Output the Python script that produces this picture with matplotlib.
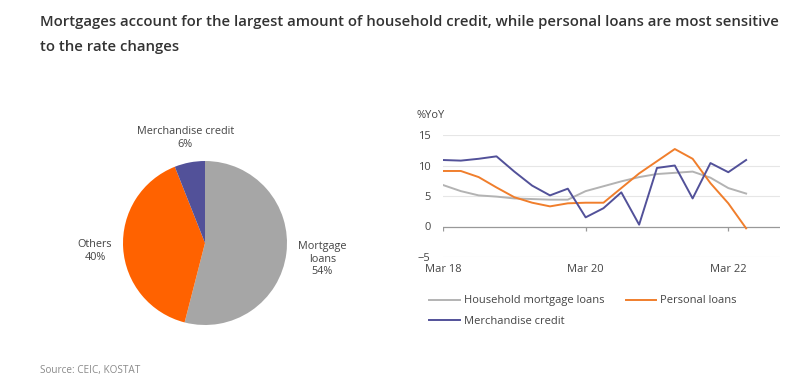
import matplotlib
matplotlib.use("Agg")
import matplotlib.pyplot as plt
import numpy as np

# ---- data ----
pie_labels = ["Mortgage\nloans\n54%", "Others\n40%", "Merchandise credit\n6%"]
pie_values = [54, 40, 6]

quarters = ["Mar 18", "Jun 18", "Sep 18", "Dec 18", "Mar 19", "Jun 19", "Sep 19", "Dec 19",
            "Mar 20", "Jun 20", "Sep 20", "Dec 20", "Mar 21", "Jun 21", "Sep 21", "Dec 21",
            "Mar 22", "Jun 22"]
mortgage = [6.8, 5.8, 5.1, 4.9, 4.6, 4.5, 4.4, 4.4, 5.8, 6.6, 7.4, 8.1, 8.6, 8.8, 9.0, 8.0, 6.3, 5.4]
personal = [9.1, 9.1, 8.1, 6.4, 4.8, 3.9, 3.3, 3.8, 3.9, 3.9, 6.3, 8.7, 10.7, 12.7, 11.1, 7.1, 3.8, -0.3]
merchandise = [10.9, 10.8, 11.1, 11.5, 9.0, 6.7, 5.1, 6.2, 1.5, 3.0, 5.6, 0.3, 9.6, 10.0, 4.6, 10.4, 8.9, 10.9]
xtick_labels = ["Mar 18", "Mar 20", "Mar 22"]
yticks = [-5, 0, 5, 10, 15]

FONT = ["Open Sans", "DejaVu Sans"]
plt.rcParams["font.family"] = FONT
TXT = "#444444"

fig = plt.figure(figsize=(8.08, 3.9), dpi=100)
W, H = 808, 390

fig.text(40 / W, 1 - 22 / H,
         "Mortgages account for the largest amount of household credit, while personal loans are most sensitive",
         fontsize=10.75, color="#333333", weight="semibold", va="center", ha="left")
fig.text(40 / W, 1 - 47 / H, "to the rate changes",
         fontsize=10.75, color="#333333", weight="semibold", va="center", ha="left")
fig.text(40 / W, 1 - 370 / H, "Source: CEIC, KOSTAT", fontsize=7.2, color="#8a8a8a",
         va="center", ha="left")

# ---- pie ----
cx, cy, r = 205, 243, 82
axp = fig.add_axes([(cx - r) / W, 1 - (cy + r) / H, 2 * r / W, 2 * r / H])
axp.pie(pie_values, colors=["#a6a6a6", "#ff6200", "#525199"], startangle=90,
        counterclock=False, radius=1.0)
axp.set_xlim(-1, 1)
axp.set_ylim(-1, 1)
label_pos = [(1.43, -0.2), (-1.34, -0.1), (-0.24, 1.28)]
for lab, (lx, ly) in zip(pie_labels, label_pos):
    axp.text(lx, ly, lab, ha="center", va="center", fontsize=7.8, color=TXT,
             linespacing=1.2, clip_on=False)

# ---- line chart ----
x0, x1, ytop, ybot = 443, 780, 135, 257
ax = fig.add_axes([x0 / W, 1 - ybot / H, (x1 - x0) / W, (ybot - ytop) / H])
x = np.arange(len(quarters))
l1, = ax.plot(x, mortgage, color="#b3b3b3", lw=1.4, label="Household mortgage loans")
l2, = ax.plot(x, personal, color="#f07e2c", lw=1.4, label="Personal loans")
l3, = ax.plot(x, merchandise, color="#525199", lw=1.4, label="Merchandise credit")
ax.set_xlim(0, 18.9)
ax.set_ylim(-5, 15)
ax.set_yticks(yticks)
for v in yticks:
    if v != 0:
        ax.axhline(v, color="#e6e6e6", lw=0.8, zorder=0)
ax.axhline(0, color="#999999", lw=0.9, zorder=1)
tick_pos = [quarters.index(t) for t in xtick_labels]
ax.vlines(tick_pos, -0.7, 0, color="#999999", lw=0.9)
ax.set_xticks(tick_pos)
ax.set_xticklabels(xtick_labels)
for s in ax.spines.values():
    s.set_visible(False)
ax.tick_params(axis="both", length=0, labelsize=8, colors=TXT)
ax.tick_params(axis="x", pad=5)
ax.tick_params(axis="y", pad=9)
ax.text(-0.08, 1.16, "%YoY", transform=ax.transAxes, fontsize=8, color=TXT,
        ha="left", va="center")

leg = fig.legend(handles=[l1, l3, l2], loc="upper left",
                 bbox_to_anchor=(425 / W, 1 - 291 / H), ncol=2, frameon=False,
                 fontsize=8, handlelength=2.75, handletextpad=0.35, columnspacing=1.9,
                 labelspacing=0.85, borderaxespad=0)
for t in leg.get_texts():
    t.set_color(TXT)

fig.savefig("out.png", dpi=100, facecolor="white")
